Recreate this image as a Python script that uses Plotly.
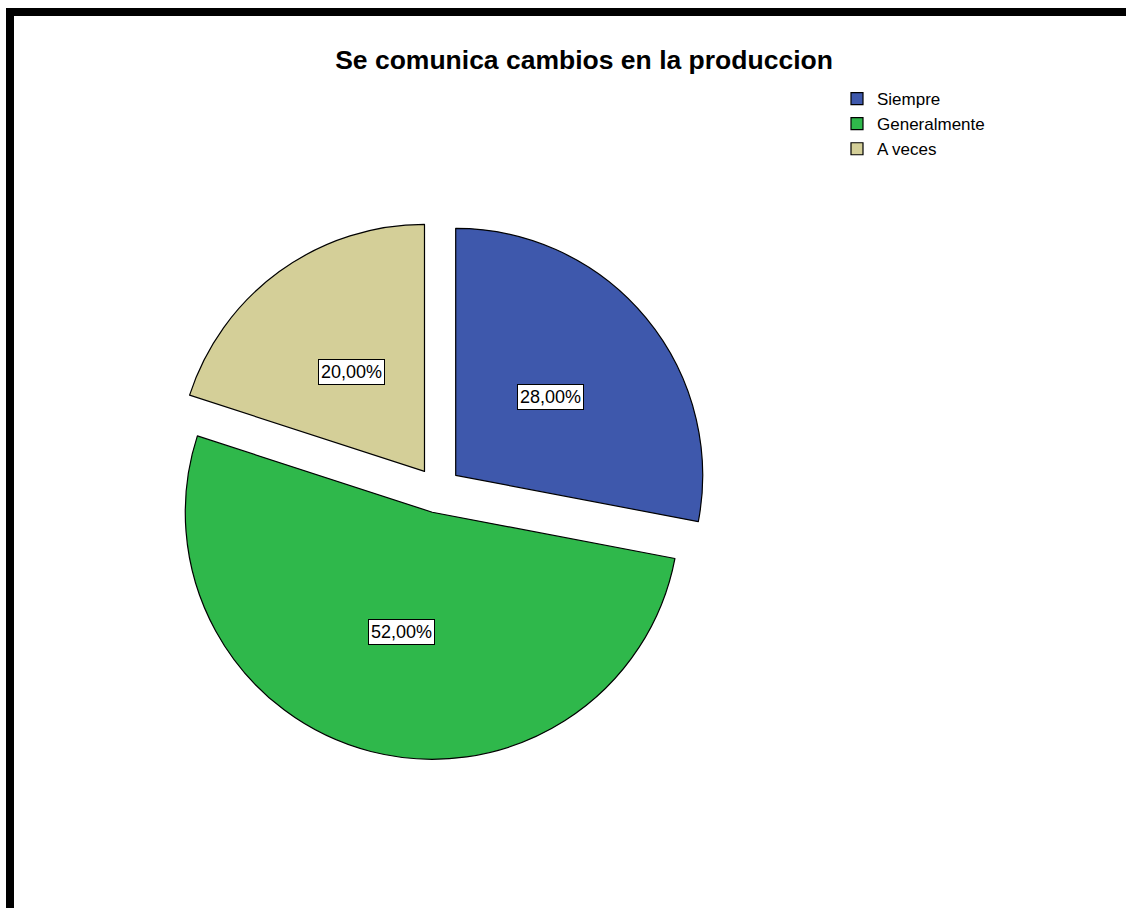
import math
import plotly.graph_objects as go

# Survey result: "Se comunica cambios en la produccion"
categories = ["Siempre", "Generalmente", "A veces"]
percentages = [28.00, 52.00, 20.00]
colors = ["#3e58ac", "#2fb84b", "#d4cf98"]

W, H = 1126, 908

# Pie geometry (pixels): centre, radius and explode fraction
CX, CY = 438, 490
R = 247
PULL = 0.093

half = R * (1 + PULL)
dom_x = [(CX - half) / W, (CX + half) / W]
dom_y = [(H - CY - half) / H, (H - CY + half) / H]

fig = go.Figure()
fig.add_trace(go.Pie(
    labels=categories,
    values=percentages,
    sort=False,
    direction="clockwise",
    rotation=0,
    pull=[PULL] * len(percentages),
    marker=dict(colors=colors, line=dict(color="#000000", width=1.2)),
    textinfo="none",
    hoverinfo="label+percent",
    domain=dict(x=dom_x, y=dom_y),
))

# Boxed percentage labels placed halfway along each slice's bisector
total = sum(percentages)
cum = 0.0
annotations = []
for cat, val in zip(categories, percentages):
    mid = (cum + val / 2) / total * 2 * math.pi
    cum += val
    dx, dy = math.sin(mid), -math.cos(mid)
    vx, vy = CX + PULL * R * dx, CY + PULL * R * dy
    px, py = vx + 0.5 * R * dx, vy + 0.5 * R * dy
    annotations.append(dict(
        x=px / W, y=1 - py / H, xref="paper", yref="paper",
        text=f"{val:.2f}%".replace(".", ","),
        showarrow=False,
        font=dict(family="Liberation Sans, Arial, sans-serif", size=18, color="#000000"),
        bgcolor="#ffffff", bordercolor="#000000", borderwidth=1, borderpad=2,
        xanchor="center", yanchor="middle",
    ))

# Frame lines along the top and left edges
shapes = [
    dict(type="rect", xref="paper", yref="paper", x0=6 / W, x1=1, y0=1 - 16 / H, y1=1 - 8 / H,
         fillcolor="#000000", line=dict(width=0)),
    dict(type="rect", xref="paper", yref="paper", x0=6 / W, x1=14 / W, y0=0, y1=1 - 8 / H,
         fillcolor="#000000", line=dict(width=0)),
]

fig.update_layout(
    width=W, height=H,
    margin=dict(l=0, r=0, t=0, b=0),
    paper_bgcolor="#ffffff",
    plot_bgcolor="#ffffff",
    title=dict(
        text="<b>Se comunica cambios en la produccion</b>",
        x=584 / W, xanchor="center", y=1 - 60 / H, yanchor="middle",
        font=dict(family="Liberation Sans, Arial, sans-serif", size=26.5, color="#000000"),
    ),
    legend=dict(
        x=837 / W, y=1 - 81 / H, xanchor="left", yanchor="top",
        font=dict(family="Liberation Sans, Arial, sans-serif", size=17, color="#000000"),
        bgcolor="rgba(0,0,0,0)", itemclick=False, tracegroupgap=0,
    ),
    annotations=annotations,
    shapes=shapes,
)

fig.write_html("out.html")
